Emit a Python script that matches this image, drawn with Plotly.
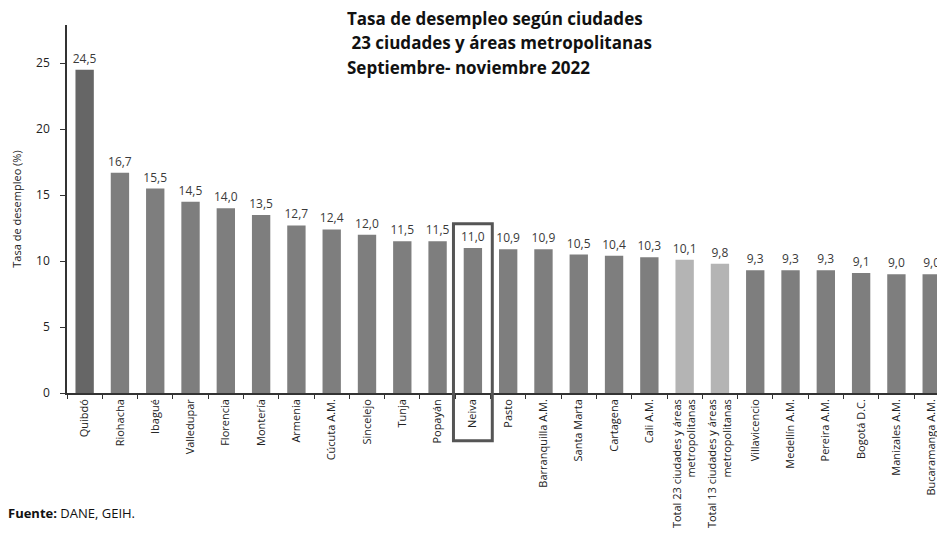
import plotly.graph_objects as go

ciudades = [
    "Quibdó", "Riohacha", "Ibagué", "Valledupar", "Florencia", "Montería",
    "Armenia", "Cúcuta A.M.", "Sincelejo", "Tunja", "Popayán", "Neiva",
    "Pasto", "Barranquilla A.M.", "Santa Marta", "Cartagena", "Cali A.M.",
    "Total 23 ciudades y áreas<br>metropolitanas",
    "Total 13 ciudades y áreas<br>metropolitanas",
    "Villavicencio", "Medellín A.M.", "Pereira A.M.", "Bogotá D.C.",
    "Manizales A.M.", "Bucaramanga A.M.",
]
tasa = [24.5, 16.7, 15.5, 14.5, 14.0, 13.5, 12.7, 12.4, 12.0, 11.5, 11.5, 11.0,
        10.9, 10.9, 10.5, 10.4, 10.3, 10.1, 9.8, 9.3, 9.3, 9.3, 9.1, 9.0, 9.0]
destacado = "Neiva"
titulo = [
    "Tasa de desempleo según ciudades",
    " 23 ciudades y áreas metropolitanas",
    "Septiembre- noviembre 2022",
]

colores = ["#b4b4b4" if c.startswith("Total") else "#7e7e7e" for c in ciudades]
colores[0] = "#666666"
etiquetas = [f"{v:.1f}".replace(".", ",") for v in tasa]

fig = go.Figure(
    go.Bar(
        x=ciudades,
        y=tasa,
        marker=dict(color=colores, line=dict(width=0)),
        width=0.52,
        text=etiquetas,
        textposition="outside",
        constraintext="none",
        cliponaxis=False,
        textfont=dict(family="Open Sans", size=12, color="#3a3a3a"),
    )
)

# recuadro que resalta Neiva
i = ciudades.index(destacado)
fig.add_shape(
    type="rect", xref="x", yref="paper",
    x0=i - 0.55, x1=i + 0.55, y0=-0.13, y1=0.46,
    line=dict(color="#555555", width=3),
)

fig.update_layout(
    width=937,
    height=539,
    margin=dict(l=67, r=0, t=25, b=146, autoexpand=False),
    paper_bgcolor="white",
    plot_bgcolor="white",
    showlegend=False,
    font=dict(family="Open Sans", color="#222222"),
)
fig.update_xaxes(
    range=[-0.5, 24.15],
    tickangle=-90,
    tickfont=dict(size=11, color="#222222"),
    showline=True, linecolor="#333333", linewidth=1.5,
    ticks="outside", ticklen=4, tickcolor="#333333",
    tickson="boundaries",
    showgrid=False,
)
fig.update_yaxes(
    range=[0, 27.9],
    tickvals=[0, 5, 10, 15, 20, 25],
    tickfont=dict(size=12, color="#222222"),
    showline=True, linecolor="#333333", linewidth=1.5,
    ticks="outside", ticklen=5, tickcolor="#333333",
    ticklabelstandoff=8,
    showgrid=False, zeroline=False,
    title=dict(text="Tasa de desempleo (%)", font=dict(size=11), standoff=12),
)

for n, linea in enumerate(titulo):
    fig.add_annotation(
        xref="paper", yref="paper", x=0.3195, y=1.0, xanchor="left", yanchor="middle",
        yshift=7 - 24.5 * n, align="left", showarrow=False,
        text=f"<b>{linea}</b>",
        font=dict(family="Open Sans", size=17, color="#111111"),
    )
fig.add_annotation(
    xref="paper", yref="paper", x=-0.07, y=-0.325, xanchor="left", yanchor="middle",
    showarrow=False,
    text="<b>Fuente:</b> DANE, GEIH.",
    font=dict(family="Open Sans", size=13, color="#111111"),
)

fig.write_html(
    "out.html",
    config={"displayModeBar": False},
    post_script="document.body.style.margin='0';",
)
